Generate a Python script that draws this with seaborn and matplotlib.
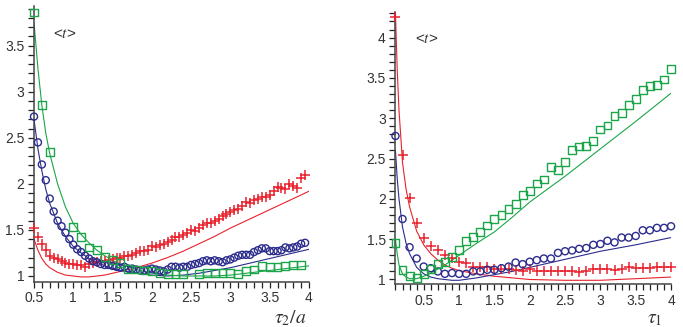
import numpy as np
import pandas as pd
import matplotlib
matplotlib.use("Agg")
import matplotlib.pyplot as plt
from matplotlib.ticker import MultipleLocator, FormatStrFormatter
import seaborn as sns
sns.set_style("white")
plt.rcParams['font.family'] = ['Liberation Sans', 'DejaVu Sans']
plt.rcParams['mathtext.fontset'] = 'stix'

RED = '#e8232d'
BLUE = '#2b2c8c'
GREEN = '#1ba548'

# ---- left panel: <t> vs tau2/a ----
left_x_dense = [0.50, 0.55, 0.60, 0.65, 0.70, 0.75, 0.80, 0.85, 0.90, 0.95,
                1.00, 1.05, 1.10, 1.15, 1.20, 1.25, 1.30, 1.35, 1.40, 1.45,
                1.50, 1.55, 1.60, 1.65, 1.70, 1.75, 1.80, 1.85, 1.90, 1.95,
                2.00, 2.05, 2.10, 2.15, 2.20, 2.25, 2.30, 2.35, 2.40, 2.45,
                2.50, 2.55, 2.60, 2.65, 2.70, 2.75, 2.80, 2.85, 2.90, 2.95,
                3.00, 3.05, 3.10, 3.15, 3.20, 3.25, 3.30, 3.35, 3.40, 3.45,
                3.50, 3.55, 3.60, 3.65, 3.70, 3.75, 3.80, 3.85, 3.90, 3.95]
left_blue_pts = [2.73, 2.45, 2.21, 2.04, 1.84, 1.70, 1.60, 1.54, 1.47, 1.40,
                 1.34, 1.29, 1.26, 1.22, 1.19, 1.16, 1.15, 1.13, 1.12, 1.12,
                 1.11, 1.10, 1.09, 1.10, 1.08, 1.08, 1.07, 1.06, 1.06, 1.07,
                 1.08, 1.07, 1.06, 1.05, 1.07, 1.10, 1.10, 1.09, 1.10, 1.10,
                 1.12, 1.13, 1.14, 1.16, 1.17, 1.16, 1.17, 1.16, 1.15, 1.17,
                 1.18, 1.20, 1.22, 1.23, 1.23, 1.23, 1.26, 1.28, 1.30, 1.30,
                 1.27, 1.27, 1.27, 1.28, 1.31, 1.30, 1.31, 1.32, 1.35, 1.36]
left_red_pts = [1.52, 1.42, 1.35, 1.28, 1.22, 1.19, 1.18, 1.16, 1.14, 1.13,
                1.13, 1.12, 1.12, 1.10, 1.13, 1.14, 1.15, 1.16, 1.16, 1.17,
                1.18, 1.19, 1.20, 1.22, 1.22, 1.23, 1.25, 1.27, 1.27, 1.28,
                1.33, 1.32, 1.34, 1.35, 1.37, 1.39, 1.42, 1.42, 1.44, 1.47,
                1.50, 1.49, 1.52, 1.55, 1.57, 1.58, 1.60, 1.62, 1.65, 1.67,
                1.70, 1.72, 1.73, 1.76, 1.80, 1.79, 1.82, 1.84, 1.86, 1.86,
                1.88, 1.92, 1.97, 1.95, 1.94, 2.00, 1.98, 1.95, 2.06, 2.10]
left_green_x = [0.5, 0.6, 0.7, 1.0, 1.1, 1.2, 1.3, 1.4, 1.5, 1.6, 1.7, 1.8,
                1.9, 2.0, 2.1, 2.2, 2.3, 2.4, 2.6, 2.7, 2.8, 2.9, 3.0, 3.1,
                3.2, 3.3, 3.4, 3.5, 3.6, 3.7, 3.8, 3.9]
left_green_pts = [3.86, 2.86, 2.35, 1.53, 1.42, 1.31, 1.28, 1.21, 1.17, 1.14,
                  1.08, 1.07, 1.06, 1.05, 1.03, 1.02, 1.02, 1.02, 1.02, 1.03,
                  1.03, 1.03, 1.03, 1.02, 1.05, 1.07, 1.11, 1.10, 1.10, 1.11,
                  1.12, 1.12]

left_line_x = [0.5, 0.55, 0.6, 0.65, 0.7, 0.8, 0.9, 1.0, 1.1, 1.2, 1.3, 1.4,
               1.5, 1.6, 1.8, 2.0, 2.2, 2.4, 2.6, 2.8, 3.0, 3.2, 3.4, 3.6,
               3.8, 4.0]
left_red_line = [1.40, 1.28, 1.19, 1.13, 1.09, 1.04, 1.01, 1.00, 0.99, 0.99,
                 1.00, 1.01, 1.03, 1.05, 1.09, 1.14, 1.20, 1.27, 1.35, 1.43,
                 1.52, 1.60, 1.68, 1.76, 1.84, 1.92]
left_blue_line = [2.70, 2.38, 2.14, 1.94, 1.79, 1.57, 1.43, 1.32, 1.25, 1.19,
                  1.15, 1.11, 1.08, 1.06, 1.03, 1.01, 1.00, 1.01, 1.03, 1.06,
                  1.09, 1.13, 1.17, 1.21, 1.25, 1.29]
left_green_line = [3.75, 3.25, 2.85, 2.55, 2.33, 2.00, 1.75, 1.57, 1.45, 1.36,
                   1.28, 1.22, 1.17, 1.13, 1.07, 1.03, 1.01, 1.00, 1.00, 1.00,
                   1.01, 1.03, 1.05, 1.07, 1.09, 1.11]

# ---- right panel: <t> vs tau1 ----
right_x = [0.1, 0.2, 0.3, 0.4, 0.5, 0.6, 0.7, 0.8, 0.9, 1.0,
           1.1, 1.2, 1.3, 1.4, 1.5, 1.6, 1.7, 1.8, 1.9, 2.0,
           2.1, 2.2, 2.3, 2.4, 2.5, 2.6, 2.7, 2.8, 2.9, 3.0,
           3.1, 3.2, 3.3, 3.4, 3.5, 3.6, 3.7, 3.8, 3.9, 4.0]
right_green_pts = [1.45, 1.12, 1.04, 1.02, 1.07, 1.13, 1.19, 1.22, 1.28, 1.37,
                   1.48, 1.53, 1.59, 1.67, 1.75, 1.80, 1.87, 1.94, 2.05, 2.10,
                   2.19, 2.24, 2.40, 2.36, 2.46, 2.61, 2.65, 2.66, 2.72, 2.86,
                   2.91, 3.03, 3.06, 3.16, 3.24, 3.35, 3.40, 3.41, 3.48, 3.61]
right_blue_pts = [2.78, 1.75, 1.40, 1.26, 1.16, 1.14, 1.10, 1.07, 1.08, 1.07,
                  1.07, 1.10, 1.10, 1.12, 1.12, 1.14, 1.16, 1.21, 1.19, 1.22,
                  1.24, 1.26, 1.26, 1.33, 1.35, 1.36, 1.38, 1.39, 1.43, 1.44,
                  1.48, 1.46, 1.52, 1.52, 1.54, 1.61, 1.61, 1.64, 1.64, 1.66]
right_red_pts = [4.26, 2.55, 2.01, 1.70, 1.52, 1.42, 1.36, 1.30, 1.27, 1.22,
                 1.21, 1.16, 1.16, 1.16, 1.13, 1.13, 1.13, 1.12, 1.11, 1.13,
                 1.11, 1.11, 1.11, 1.11, 1.11, 1.11, 1.09, 1.11, 1.13, 1.13,
                 1.13, 1.12, 1.13, 1.15, 1.14, 1.14, 1.14, 1.15, 1.16, 1.16]

right_line_x = [0.1, 0.125, 0.15, 0.2, 0.25, 0.3, 0.4, 0.5, 0.6, 0.7, 0.8,
                0.9, 1.0, 1.25, 1.5, 1.75, 2.0, 2.5, 3.0, 3.5, 4.0]
right_red_line = [4.30, 3.60, 3.10, 2.45, 2.12, 1.90, 1.60, 1.43, 1.32, 1.24,
                  1.18, 1.14, 1.11, 1.07, 1.04, 1.02, 1.00, 0.99, 0.99, 1.01,
                  1.03]
right_blue_line = [2.60, 2.25, 2.00, 1.65, 1.45, 1.32, 1.15, 1.07, 1.03, 1.01,
                   1.00, 0.99, 0.99, 1.02, 1.06, 1.10, 1.15, 1.25, 1.35, 1.43,
                   1.52]
right_green_line = [1.50, 1.32, 1.18, 1.07, 1.03, 1.01, 1.01, 1.04, 1.08, 1.13,
                    1.18, 1.24, 1.30, 1.45, 1.59, 1.77, 1.96, 2.28, 2.62, 2.96,
                    3.31]

fig = plt.figure(figsize=(6.83, 3.27), dpi=100)
ax1 = fig.add_axes([0.0498, 0.1385, 0.4026, 0.843])
ax2 = fig.add_axes([0.579, 0.1305, 0.4035, 0.8335])


def draw_panel(ax, line_x, lines, pts):
    for ly, c in lines:
        sns.lineplot(x=line_x, y=ly, ax=ax, color=c, lw=0.8)
    for px, py, m, c, s in pts:
        if m == '+':
            sns.scatterplot(x=px, y=py, ax=ax, marker='+', color=c, s=s,
                            linewidth=1.1, zorder=3, clip_on=False)
        else:
            sns.scatterplot(x=px, y=py, ax=ax, marker=m, s=s,
                            facecolors='none', edgecolor=c, linewidth=1.0,
                            zorder=3, clip_on=False)


draw_panel(ax1, left_line_x,
           [(left_red_line, RED), (left_blue_line, BLUE), (left_green_line, GREEN)],
           [(left_x_dense, left_red_pts, '+', RED, 42),
            (left_x_dense, left_blue_pts, 'o', BLUE, 26),
            (left_green_x, left_green_pts, 's', GREEN, 32)])
draw_panel(ax2, right_line_x,
           [(right_red_line, RED), (right_blue_line, BLUE), (right_green_line, GREEN)],
           [(right_x, right_red_pts, '+', RED, 42),
            (right_x, right_blue_pts, 'o', BLUE, 26),
            (right_x, right_green_pts, 's', GREEN, 32)])

ax1.set_xlim(0.5, 4.0)
ax1.set_ylim(0.938, 3.93)
ax2.set_xlim(0.1, 4.0)
ax2.set_ylim(0.94, 4.32)

for ax in (ax1, ax2):
    sns.despine(ax=ax)
    for sp in ('left', 'bottom'):
        ax.spines[sp].set_color('#444444')
        ax.spines[sp].set_linewidth(1.1)
    ax.xaxis.set_major_locator(MultipleLocator(0.5))
    ax.xaxis.set_minor_locator(MultipleLocator(0.1))
    ax.yaxis.set_major_locator(MultipleLocator(0.5))
    ax.yaxis.set_minor_locator(MultipleLocator(0.1))
    ax.xaxis.set_major_formatter(FormatStrFormatter('%g'))
    ax.yaxis.set_major_formatter(FormatStrFormatter('%g'))
    ax.tick_params(which='both', direction='out', length=4, width=0.9,
                   color='#222222', labelsize=10, labelcolor='#333333',
                   bottom=True, left=True)
    ax.tick_params(which='major', pad=3)
    ax.set_xlabel('')
    ax.set_ylabel('')
    ax.text(0.07, 0.885, '<$t$>', transform=ax.transAxes, fontsize=11,
            color='#333333')

ax2.set_xticks([0.5, 1, 1.5, 2, 2.5, 3, 3.5, 4])

fig.text(0.425, 0.012, r'$\tau_2/a$', fontsize=14, color='#333333',
         ha='center', va='baseline')
fig.text(0.958, 0.012, r'$\tau_1$', fontsize=14, color='#333333',
         ha='center', va='baseline')

fig.savefig('out.png', dpi=100)
